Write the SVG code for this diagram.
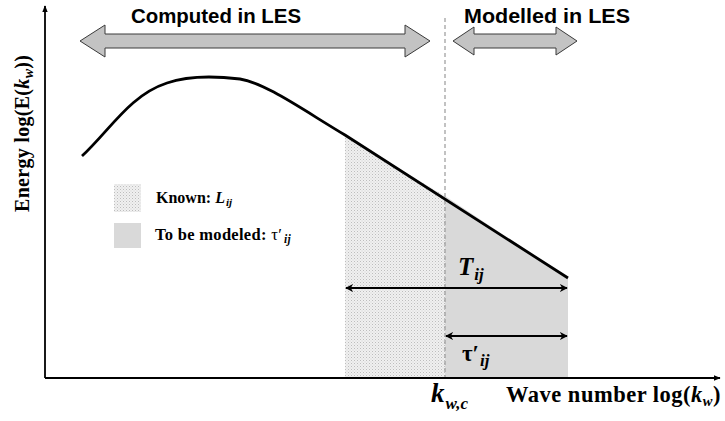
<svg xmlns="http://www.w3.org/2000/svg" width="725" height="421" viewBox="0 0 725 421">
<defs>
<pattern id="dots" width="3" height="3" patternUnits="userSpaceOnUse">
<rect width="3" height="3" fill="#f0f0f0"/>
<rect width="1" height="1" fill="#bdbdbd"/>
<rect x="1.5" y="1.5" width="1" height="1" fill="#d0d0d0"/>
</pattern>
<marker id="ah" viewBox="0 0 10 10" refX="9" refY="5" markerWidth="8" markerHeight="8" markerUnits="userSpaceOnUse" orient="auto-start-reverse">
<path d="M0,0 L10,5 L0,10 L3,5 Z" fill="#000"/>
</marker>
<marker id="axh" viewBox="0 0 10 10" refX="9" refY="5" markerWidth="7" markerHeight="7" markerUnits="userSpaceOnUse" orient="auto">
<path d="M0,1 L10,5 L0,9 Z" fill="#000"/>
</marker>
</defs>
<style>
.head{font-family:"Liberation Sans",Arial,sans-serif;font-weight:bold;font-size:21px;fill:#000}
.ser{font-family:"Liberation Serif","Times New Roman",serif;font-weight:bold;fill:#000}
.big{fill:#c3c3c3;stroke:#3a3a3a;stroke-width:1}
.dim{stroke:#000;stroke-width:2.2;fill:none}
</style>

<g id="regions">
<path d="M345,135 L418,180 L445,196 L445,378 L345,378 Z" fill="url(#dots)"/>
<path d="M445,196 L568,278 L568,377 L445,377 Z" fill="#d9d9d9"/>
</g>

<g id="cutoff">
<line x1="445" y1="18" x2="445" y2="378" stroke="#9a9a9a" stroke-width="1.2" stroke-dasharray="4,3"/>
</g>

<g id="axes">
<line x1="45" y1="378" x2="45" y2="6" stroke="#000" stroke-width="1.8" marker-end="url(#axh)"/>
<line x1="45" y1="378" x2="720" y2="378" stroke="#000" stroke-width="1.8" marker-end="url(#axh)"/>
</g>

<g id="spectrum">
<path d="M82,156 C110,130 130,95 167,83 C190,75 215,76 240,79 C265,83 300,108 345,135 L568,278" fill="none" stroke="#000" stroke-width="2.8"/>
</g>

<g id="computed">
<path class="big" d="M80,41 L105,25 L105,34 L405,34 L405,25 L430,41 L405,57 L405,48 L105,48 L105,57 Z"/>
<text class="head" x="216" y="23" text-anchor="middle" textLength="170" lengthAdjust="spacingAndGlyphs">Computed in LES</text>
</g>

<g id="modelled">
<path class="big" d="M453,41 L474,27 L474,34 L556,34 L556,27 L577,41 L556,55 L556,48 L474,48 L474,55 Z"/>
<text class="head" x="547" y="23" text-anchor="middle" textLength="166" lengthAdjust="spacingAndGlyphs">Modelled in LES</text>
</g>

<g id="legend">
<rect x="114" y="184" width="27" height="28" fill="url(#dots)"/>
<rect x="114" y="223" width="27" height="25" fill="#d9d9d9"/>
<text class="ser" x="156" y="203" font-size="16">Known: <tspan font-style="italic" font-size="16">L</tspan><tspan font-style="italic" font-size="11" dx="1" dy="3">ij</tspan></text>
<text class="ser" x="155" y="240" font-size="16.5" letter-spacing="0.3">To be modeled: <tspan font-weight="normal">τ′</tspan><tspan font-style="italic" font-size="11.5" dx="2" dy="3">ij</tspan></text>
</g>

<g id="connectors">
<line class="dim" x1="346" y1="288" x2="567" y2="288" marker-start="url(#ah)" marker-end="url(#ah)"/>
<line class="dim" x1="446" y1="336" x2="567" y2="336" marker-start="url(#ah)" marker-end="url(#ah)"/>
</g>

<g id="labels">
<text class="ser" x="458" y="275" font-size="25" font-style="italic">T<tspan font-size="17" dx="1" dy="5">ij</tspan></text>
<text class="ser" x="462" y="361" font-size="23" font-weight="normal">τ′<tspan font-size="17" font-weight="bold" font-style="italic" dx="1" dy="5">ij</tspan></text>
<text class="ser" x="431" y="402" font-size="27" font-style="italic">k<tspan font-size="17" dx="1" dy="7">w,c</tspan></text>
<text class="ser" x="506" y="402" font-size="22.5" letter-spacing="0.5">Wave number log(<tspan font-style="italic">k</tspan><tspan font-style="italic" font-size="14.5" dy="4">w</tspan><tspan dy="-4">)</tspan></text>
<text class="ser" transform="translate(29,212) rotate(-90)" font-size="20" letter-spacing="0.3">Energy log(E(<tspan font-style="italic">k</tspan><tspan font-style="italic" font-size="14" dy="4">w</tspan><tspan dy="-4">))</tspan></text>
</g>
</svg>
